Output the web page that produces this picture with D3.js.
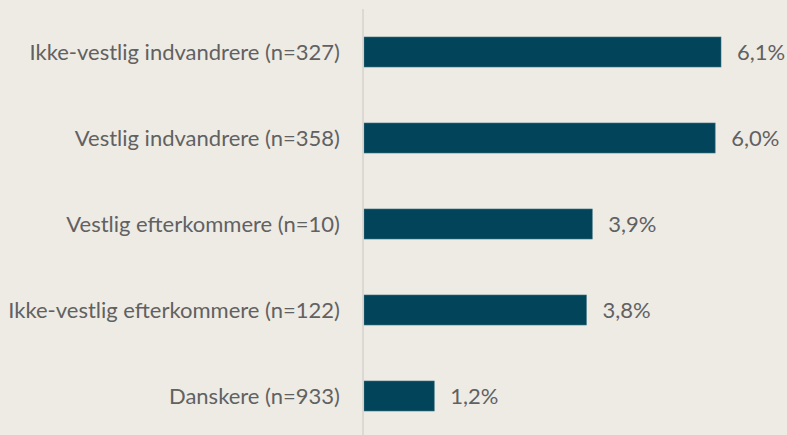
<!DOCTYPE html>
<html>
<head>
<meta charset="utf-8">
<script src="https://cdn.jsdelivr.net/npm/d3@7/dist/d3.min.js"></script>
<style>
  html, body { margin: 0; padding: 0; background: #EEEBE5; }
  svg { display: block; }
  text { font-family: Lato, "Open Sans", sans-serif; font-weight: 400; fill: #616161; }
</style>
</head>
<body>
<svg id="chart" width="787" height="435"></svg>
<script>
// Categories (top to bottom) and their shares in percent
const categories = [
  "Ikke-vestlig indvandrere (n=327)",
  "Vestlig indvandrere (n=358)",
  "Vestlig efterkommere (n=10)",
  "Ikke-vestlig efterkommere (n=122)",
  "Danskere (n=933)"
];
const values = [6.1, 6.0, 3.9, 3.8, 1.2];
const valueLabels = ["6,1%", "6,0%", "3,9%", "3,8%", "1,2%"];

const data = categories.map((c, i) => ({ cat: c, val: values[i], label: valueLabels[i] }));

const svg = d3.select("#chart");
const W = 787, H = 435;
const x0 = 364;

const x = d3.scaleLinear().domain([0, 6.1]).range([x0, 721]);
const y = d3.scaleBand()
  .domain(categories)
  .range([9, 439])
  .paddingInner(0.651)
  .paddingOuter(0.3255);

// bars
svg.append("g").selectAll("rect")
  .data(data)
  .join("rect")
  .attr("x", x(0))
  .attr("y", d => y(d.cat))
  .attr("width", d => x(d.val) - x(0))
  .attr("height", y.bandwidth())
  .attr("fill", "#02455A")
  .attr("stroke", "#3F7383")
  .attr("stroke-width", 0.6);

// vertical axis line
svg.append("line")
  .attr("x1", 363).attr("x2", 363)
  .attr("y1", 9).attr("y2", H)
  .attr("stroke", "#D6D3CF")
  .attr("stroke-width", 1.5);

// category labels
svg.append("g").selectAll("text")
  .data(data)
  .join("text")
  .attr("x", 340)
  .attr("y", d => y(d.cat) + y.bandwidth() / 2)
  .attr("dy", "0.35em")
  .attr("text-anchor", "end")
  .attr("font-size", 22)
  .text(d => d.cat);

// value labels
svg.append("g").selectAll("text")
  .data(data)
  .join("text")
  .attr("x", d => x(d.val) + 16)
  .attr("y", d => y(d.cat) + y.bandwidth() / 2)
  .attr("dy", "0.35em")
  .attr("font-size", 22)
  .text(d => d.label);
</script>
</body>
</html>
